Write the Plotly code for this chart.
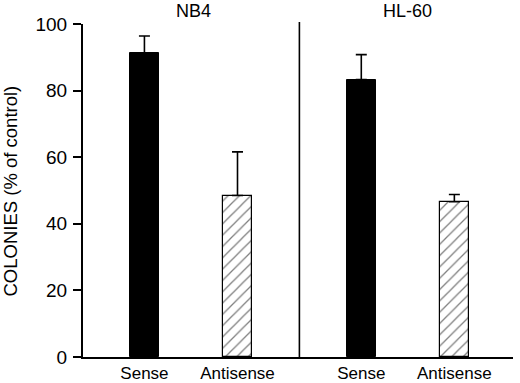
import plotly.graph_objects as go

# Data
categories = ["Sense", "Antisense", "Sense", "Antisense"]
groups = ["NB4", "NB4", "HL-60", "HL-60"]
positions = [0, 1, 2.33, 3.33]
values = [91.2, 48.5, 83.3, 46.6]
err_top = [96.4, 61.6, 90.8, 48.8]
panel_titles = ["NB4", "HL-60"]
y_ticks = [0, 20, 40, 60, 80, 100]

W, H = 520, 383
L, R, T, B = 83, 7, 24, 26
PH = H - T - B
PW = W - L - R

fig = go.Figure()

sense_idx = [0, 2]
anti_idx = [1, 3]

fig.add_trace(go.Bar(
    x=[positions[i] for i in sense_idx],
    y=[values[i] for i in sense_idx],
    width=0.31,
    marker=dict(color="black", line=dict(color="black", width=1)),
    error_y=dict(type="data", symmetric=False,
                 array=[err_top[i] - values[i] for i in sense_idx],
                 arrayminus=[0, 0], color="black", thickness=1.6, width=5.5),
    showlegend=False, hoverinfo="skip",
))
fig.add_trace(go.Bar(
    x=[positions[i] for i in anti_idx],
    y=[values[i] for i in anti_idx],
    width=0.31,
    marker=dict(color="white", line=dict(color="black", width=1.2),
                pattern=dict(shape="/", fgcolor="black", bgcolor="white",
                             size=8, solidity=0.16)),
    error_y=dict(type="data", symmetric=False,
                 array=[err_top[i] - values[i] for i in anti_idx],
                 arrayminus=[0, 0], color="black", thickness=1.6, width=5.5),
    showlegend=False, hoverinfo="skip",
))

# divider between panels
fig.add_shape(type="line", xref="x", yref="paper", x0=1.665, x1=1.665,
              y0=0, y1=1.006, line=dict(color="black", width=1.6))

# panel titles
for t, xc in zip(panel_titles, [(positions[0] + positions[1]) / 2 + 0.03,
                                (positions[2] + positions[3]) / 2]):
    fig.add_annotation(text=t, x=xc, xref="x", y=(357 - 11) / PH, yref="paper",
                       showarrow=False, xanchor="center", yanchor="middle",
                       font=dict(size=18, color="black"))

# y title
fig.add_annotation(text="COLONIES (% of control)", textangle=-90,
                   x=(10 - 83) / PW, xref="paper", y=(357 - 191.5) / PH,
                   yref="paper", showarrow=False, xanchor="center", yanchor="middle",
                   font=dict(size=18.5, color="black"))

fig.update_layout(
    width=W, height=H,
    margin=dict(l=L, r=R, t=T, b=B, autoexpand=False),
    paper_bgcolor="white", plot_bgcolor="white",
    font=dict(family="Liberation Sans, Arial, sans-serif", color="black"),
    bargap=0, hovermode=False,
)
fig.update_xaxes(range=[-0.66, 3.96], tickmode="array", tickvals=positions,
                 ticktext=categories, showline=True, linecolor="black",
                 linewidth=2, ticks="", showgrid=False, zeroline=False,
                 automargin=False, tickfont=dict(size=17, color="black"))
fig.update_yaxes(range=[0, 100], tickmode="array", tickvals=y_ticks,
                 showline=True, linecolor="black", linewidth=2, ticks="outside",
                 ticklen=8, tickwidth=1.5, tickcolor="black", showgrid=False,
                 zeroline=False, automargin=False, ticklabelstandoff=2,
                 tickfont=dict(size=19, color="black"))

fig.write_html("out.html", config={"displayModeBar": False},
               post_script="document.body.style.margin='0';document.body.style.overflow='hidden';")
